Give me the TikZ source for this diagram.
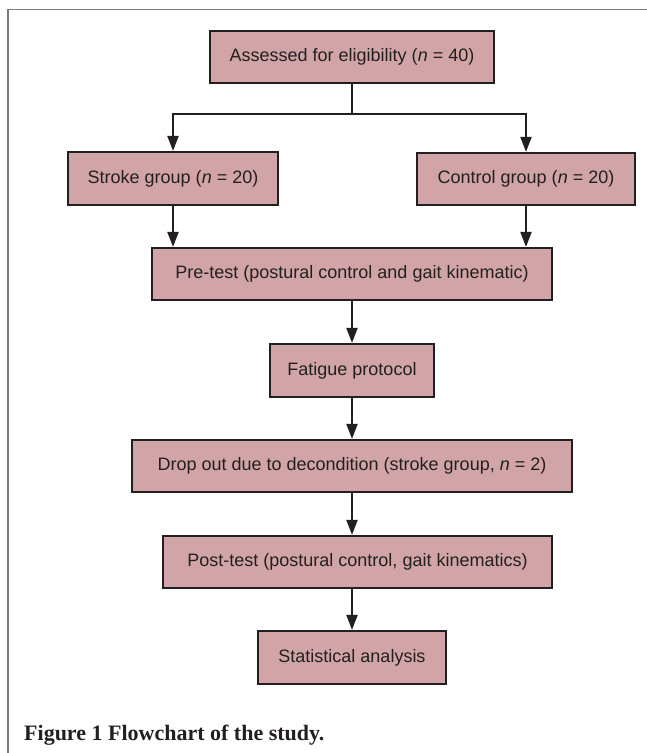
\documentclass[tikz,border=0pt]{standalone}
\usepackage{fontspec}
\setmainfont{Liberation Sans}
\newfontfamily\capfont{Liberation Serif}
\usetikzlibrary{arrows.meta}
\definecolor{boxfill}{HTML}{D1A5A8}
\definecolor{ink}{HTML}{231F20}
\definecolor{framegray}{HTML}{7A7A7A}
\tikzset{
  stepbox/.style={draw=ink, fill=boxfill, line width=2.2pt, inner sep=0pt,
    text=ink, font=\fontsize{18}{22}\selectfont},
  arr/.style={draw=ink, line width=2pt, -{Triangle[length=15pt,width=11pt]}},
  link/.style={draw=ink, line width=2pt}
}
\begin{document}
\begin{tikzpicture}[x=1pt,y=-1pt]
\useasboundingbox (0,0) rectangle (647,753);
% frame
\draw[framegray, line width=1.5pt] (8,753) -- (8,9.5) -- (647,9.5);

\node[stepbox, minimum width=284pt, minimum height=52pt] (b1) at (352,57) {Assessed for eligibility (\textit{n} = 40)};
\node[stepbox, minimum width=210pt, minimum height=53pt] (stroke) at (173,178.5) {Stroke group (\textit{n} = 20)};
\node[stepbox, minimum width=218pt, minimum height=52pt] (control) at (526,179) {Control group (\textit{n} = 20)};
\node[stepbox, minimum width=400pt, minimum height=52pt] (pre) at (352,274) {Pre-test (postural control and gait kinematic)};
\node[stepbox, minimum width=164pt, minimum height=53pt] (fat) at (352,370.5) {Fatigue protocol};
\node[stepbox, minimum width=440pt, minimum height=52pt] (drop) at (352,466) {Drop out due to decondition (stroke group, \textit{n} = 2)};
\node[stepbox, minimum width=389pt, minimum height=52pt] (post) at (357.5,562) {Post-test (postural control, gait kinematics)};
\node[stepbox, minimum width=188pt, minimum height=53pt] (stat) at (352,657.5) {Statistical analysis};

\coordinate (br) at (352,114);
\draw[link] (b1.south) -- (br);
\draw[arr] (br) -| (stroke.north);
\draw[arr] (br) -| (control.north);
\draw[arr] (stroke.south) -- (stroke.south |- pre.north);
\draw[arr] (control.south) -- (control.south |- pre.north);
\draw[arr] (pre.south) -- (fat.north);
\draw[arr] (fat.south) -- (drop.north);
\draw[arr] (drop.south) -- (drop.south |- post.north);
\draw[arr] (stat.north |- post.south) -- (stat.north);

\node[anchor=base west, inner sep=0pt, text=ink, font=\capfont\bfseries\fontsize{22}{26}\selectfont] (cap) at (24,740) {Figure 1 Flowchart of the study.};
\end{tikzpicture}
\end{document}
